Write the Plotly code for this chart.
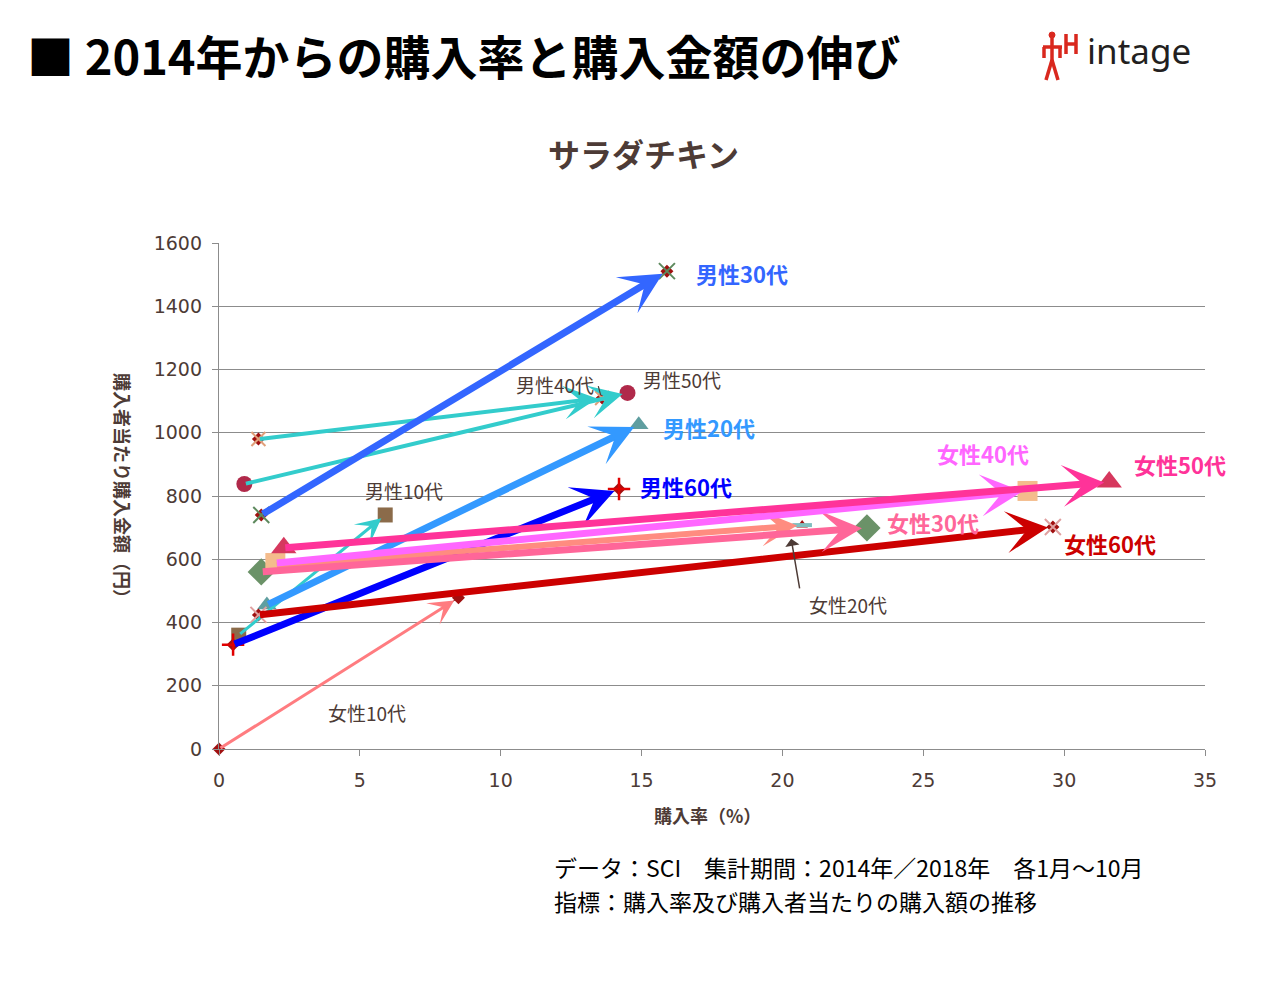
import plotly.graph_objects as go

# ---------------- data ----------------
categories = ["男性10代", "男性20代", "男性30代", "男性40代", "男性50代", "男性60代",
              "女性10代", "女性20代", "女性30代", "女性40代", "女性50代", "女性60代"]
rate_2014 = [0.7, 1.7, 1.5, 1.4, 0.9, 0.5, 0.0, 2.0, 1.5, 2.0, 2.3, 1.4]
rate_2018 = [5.9, 14.9, 15.9, 13.6, 14.5, 14.2, 8.5, 20.7, 23.0, 28.7, 31.6, 29.6]
amount_2014 = [360, 455, 740, 980, 838, 330, 0, 580, 560, 588, 636, 424]
amount_2018 = [740, 1025, 1511, 1110, 1126, 822, 478, 708, 699, 816, 844, 702]

x_ticks = [0, 5, 10, 15, 20, 25, 30, 35]
y_ticks = [0, 200, 400, 600, 800, 1000, 1200, 1400, 1600]

footer_lines = ["データ：SCI　集計期間：2014年／2018年　各1月～10月",
                "指標：購入率及び購入者当たりの購入額の推移"]

# ---------------- styles ----------------
W, H = 1284, 982
L, R, T, B = 219, 1205, 243, 749
TXT = "#4D3B36"
GRID = "#8C8C8C"
JP = "Noto Sans CJK JP"

arrow_color = {
    "男性10代": "#33CCCC", "男性20代": "#3399FF", "男性30代": "#3366FF",
    "男性40代": "#33CCCC", "男性50代": "#33CCCC", "男性60代": "#0000FF",
    "女性10代": "#FF7C80", "女性20代": "#FF8C80", "女性30代": "#FF6699",
    "女性40代": "#FF66FF", "女性50代": "#FF3399", "女性60代": "#CC0000",
}
arrow_width = {
    "男性10代": 3, "男性20代": 7, "男性30代": 7, "男性40代": 4, "男性50代": 4,
    "男性60代": 7, "女性10代": 3, "女性20代": 6, "女性30代": 7, "女性40代": 7,
    "女性50代": 7, "女性60代": 7,
}
marker_style = {
    "男性10代": dict(symbol="square", color="#8B6B4A", size=15),
    "男性20代": dict(symbol="triangle-up", color="#5F9EA0", size=17),
    "男性30代": dict(symbol="x-thin", color="#5E8A5E", size=16, line=dict(width=2, color="#5E8A5E")),
    "男性40代": dict(symbol="x-thin", color="#E0A07A", size=14, line=dict(width=2, color="#E0A07A")),
    "男性50代": dict(symbol="circle", color="#B0294A", size=16),
    "男性60代": dict(symbol="cross-thin", color="#E00000", size=16, line=dict(width=2.5, color="#E00000")),
    "女性10代": dict(symbol="diamond", color="#A01010", size=10),
    "女性20代": dict(symbol="line-ew", color="#7FBFBF", size=14, line=dict(width=4, color="#7FBFBF")),
    "女性30代": dict(symbol="diamond", color="#6B9268", size=21),
    "女性40代": dict(symbol="square", color="#F4BC8C", size=20),
    "女性50代": dict(symbol="triangle-up", color="#D6385E", size=22),
    "女性60代": dict(symbol="x-thin", color="#E0A0A0", size=16, line=dict(width=2, color="#E0A0A0")),
}
# label: (x, y, bold, color)
label_style = {
    "男性30代": (18.57, 1505, True, "#3366FF"),
    "男性20代": (17.39, 1018, True, "#3399FF"),
    "男性60代": (16.58, 832, True, "#0000FF"),
    "男性40代": (11.93, 1154, False, TXT),
    "男性50代": (16.44, 1167, False, TXT),
    "男性10代": (6.57, 816, False, TXT),
    "女性10代": (5.25, 117, False, TXT),
    "女性20代": (22.33, 458, False, TXT),
    "女性30代": (25.35, 718, True, "#FF6699"),
    "女性40代": (27.12, 936, True, "#FF66FF"),
    "女性50代": (34.11, 901, True, "#FF3399"),
    "女性60代": (31.63, 651, True, "#CC0000"),
}


def px(x):
    return (x - L) / (R - L)


def py(y):
    return (B - y) / (B - T)


fig = go.Figure()

# series: thin line + base dark-red marker + own marker
for i, c in enumerate(categories):
    xs = [rate_2014[i], rate_2018[i]]
    ys = [amount_2014[i], amount_2018[i]]
    fig.add_trace(go.Scatter(x=xs, y=ys, mode="lines", line=dict(color="#8B1A1A", width=1),
                             hoverinfo="skip", showlegend=False, cliponaxis=False))

for i, c in enumerate(categories):
    xs = [rate_2014[i], rate_2018[i]]
    ys = [amount_2014[i], amount_2018[i]]
    ms = marker_style[c]
    sym = ms["symbol"]
    if sym in ("x-thin", "cross-thin", "triangle-up", "line-ew"):
        base_sym = "triangle-up" if sym in ("line-ew", "triangle-up") else "diamond"
        fig.add_trace(go.Scatter(x=xs, y=ys, mode="markers",
                                 marker=dict(symbol=base_sym, color="#A01010", size=10),
                                 hoverinfo="skip", showlegend=False, cliponaxis=False))
    mk = dict(symbol=sym, color=ms["color"], size=ms["size"])
    if "line" in ms:
        mk["line"] = ms["line"]
    fig.add_trace(go.Scatter(x=xs, y=ys, mode="markers", marker=mk, name=c,
                             showlegend=False, cliponaxis=False))

annotations = []
# arrows from 2014 to 2018
draw_order = ["女性10代", "男性10代", "男性40代", "男性50代", "男性30代", "男性20代",
              "男性60代", "女性60代", "女性20代", "女性30代", "女性40代", "女性50代"]
for c in draw_order:
    i = categories.index(c)
    annotations.append(dict(
        x=rate_2018[i], y=amount_2018[i], ax=rate_2014[i], ay=amount_2014[i],
        xref="x", yref="y", axref="x", ayref="y", text="", showarrow=True,
        arrowhead=3, arrowsize=1.0 if arrow_width[c] >= 6 else 1.4,
        arrowwidth=arrow_width[c], arrowcolor=arrow_color[c], standoff=5,
    ))

# labels
for c in categories:
    x, y, bold, col = label_style[c]
    txt = f"<b>{c}</b>" if bold else c
    annotations.append(dict(x=x, y=y, xref="x", yref="y", text=txt, showarrow=False,
                            font=dict(family=JP, size=22 if bold else 19, color=col)))

# small pointer arrows for 男性40代 and 女性20代 labels
annotations.append(dict(x=13.55, y=1118, ax=13.45, ay=1152, xref="x", yref="y",
                        axref="x", ayref="y", text="", showarrow=True, arrowhead=0,
                        arrowwidth=1.2, arrowcolor=TXT))
annotations.append(dict(x=20.31, y=665, ax=20.62, ay=503, xref="x", yref="y",
                        axref="x", ayref="y", text="", showarrow=True, arrowhead=1,
                        arrowsize=1.6, arrowwidth=1.5, arrowcolor=TXT))

# titles and texts
annotations += [
    dict(x=px(25), y=py(55), xref="paper", yref="paper", xanchor="left", yanchor="middle",
         text="<b>■ 2014年からの購入率と購入金額の伸び</b>", showarrow=False,
         font=dict(family=JP, size=47, color="#000000")),
    dict(x=px(643), y=py(153), xref="paper", yref="paper", xanchor="center", yanchor="middle",
         text="<b>サラダチキン</b>", showarrow=False, font=dict(family=JP, size=32, color=TXT)),
    dict(x=px(707), y=py(815), xref="paper", yref="paper", xanchor="center", yanchor="middle",
         text="<b>購入率（%）</b>", showarrow=False, font=dict(family=JP, size=18, color=TXT)),
    dict(x=px(123), y=py(490), xref="paper", yref="paper", xanchor="center", yanchor="middle",
         text="<b>購入者当たり購入金額（円）</b>", textangle=90, showarrow=False,
         font=dict(family=JP, size=18, color=TXT)),
    dict(x=px(1085), y=py(50), xref="paper", yref="paper", xanchor="left", yanchor="middle",
         text="intage", showarrow=False, font=dict(family="Noto Sans", size=35, color="#231F20")),
]
for k, line in enumerate(footer_lines):
    annotations.append(dict(x=px(552), y=py(867 + 34 * k), xref="paper", yref="paper",
                            xanchor="left", yanchor="middle", text=line, showarrow=False,
                            font=dict(family=JP, size=23, color="#000000")))

# logo glyph shapes (red figure)
RED = "#D9281E"
shapes = []


def seg(x0, y0, x1, y1, w=3.5):
    shapes.append(dict(type="line", xref="paper", yref="paper", x0=px(x0), y0=py(y0),
                       x1=px(x1), y1=py(y1), line=dict(color=RED, width=w)))


shapes.append(dict(type="circle", xref="paper", yref="paper", x0=px(1049), y0=py(32),
                   x1=px(1055), y1=py(38), fillcolor=RED, line=dict(color=RED, width=1)))
seg(1052, 38, 1052, 62)
seg(1043, 47, 1062, 47)
seg(1044, 47, 1044, 58)
seg(1060, 47, 1060, 58)
seg(1052, 60, 1046, 80)
seg(1052, 60, 1058, 80)
seg(1066, 34, 1066, 54)
seg(1076, 34, 1076, 54)
seg(1066, 44, 1076, 44)

fig.update_layout(
    width=W, height=H,
    margin=dict(l=L, r=W - R, t=T, b=H - B, pad=0),
    paper_bgcolor="white", plot_bgcolor="white",
    showlegend=False,
    annotations=annotations,
    shapes=shapes,
    xaxis=dict(range=[0, 35], tickvals=x_ticks, ticktext=[str(v) for v in x_ticks],
               showgrid=False, zeroline=False, showline=True, linecolor=GRID, linewidth=1.3,
               ticks="outside", ticklen=6, tickcolor=GRID, ticklabelstandoff=8,
               tickfont=dict(family="DejaVu Sans", size=19, color=TXT)),
    yaxis=dict(range=[0, 1600], tickvals=y_ticks, ticktext=[str(v) for v in y_ticks],
               showgrid=True, gridcolor=GRID, gridwidth=1.2, zeroline=False, showline=True,
               linecolor=GRID, linewidth=1.3, ticks="outside", ticklen=6, tickcolor=GRID,
               ticklabelstandoff=6,
               tickfont=dict(family="DejaVu Sans", size=19, color=TXT)),
)

fig.write_html("out.html")
